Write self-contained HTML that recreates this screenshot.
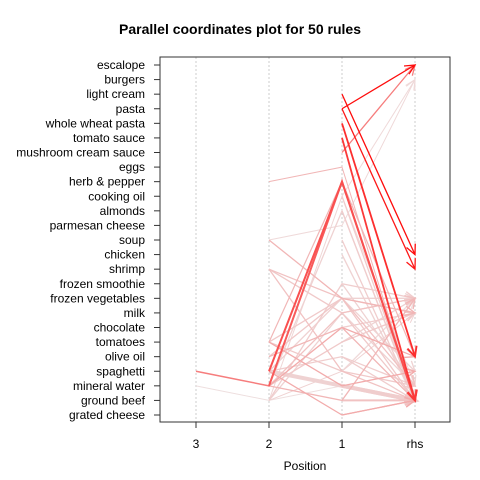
<!DOCTYPE html>
<html><head><meta charset="utf-8"><style>
body{margin:0;background:#fff}
svg{display:block;font-family:"Liberation Sans",Arial,sans-serif}
</style></head><body>
<svg id="chart" width="480" height="480" viewBox="0 0 480 480">
<rect width="480" height="480" fill="#fff"/>
<text x="240" y="34" text-anchor="middle" font-size="14" font-weight="bold">Parallel coordinates plot for 50 rules</text>
<g id="grid"></g>
<g id="lines"></g>
<rect x="160" y="57" width="290" height="365" fill="none" stroke="#333" stroke-width="1"/>
<g id="axes"></g>
<text x="305" y="470" text-anchor="middle" font-size="12">Position</text>
</svg>
<script>
const items = ["escalope","burgers","light cream","pasta","whole wheat pasta","tomato sauce","mushroom cream sauce","eggs","herb & pepper","cooking oil","almonds","parmesan cheese","soup","chicken","shrimp","frozen smoothie","frozen vegetables","milk","chocolate","tomatoes","olive oil","spaghetti","mineral water","ground beef","grated cheese"];
const positions = ["3","2","1","rhs"];
// rules: [pos3, pos2, pos1, rhs]
const ruleItems = [
 [null,null,"pasta","escalope"],
 [null,null,"light cream","chicken"],
 [null,null,"pasta","shrimp"],
 [null,null,"whole wheat pasta","olive oil"],
 [null,null,"tomato sauce","ground beef"],
 [null,null,"mushroom cream sauce","escalope"],
 [null,"soup","parmesan cheese","burgers"],
 [null,"herb & pepper","eggs","ground beef"],
 [null,"spaghetti","herb & pepper","ground beef"],
 [null,"mineral water","herb & pepper","ground beef"],
 [null,"tomatoes","herb & pepper","olive oil"],
 ["spaghetti","mineral water","herb & pepper","ground beef"],
 ["mineral water","ground beef","mineral water","ground beef"],
 [null,"spaghetti","mineral water","ground beef"],
 [null,null,"mineral water","ground beef"],
 [null,"soup","frozen vegetables","milk"],
 [null,"shrimp","milk","ground beef"],
 [null,"shrimp","frozen vegetables","mineral water"],
 [null,"tomatoes","frozen vegetables","ground beef"],
 [null,"olive oil","frozen vegetables","milk"],
 [null,"spaghetti","frozen vegetables","frozen vegetables"],
 [null,"mineral water","milk","frozen vegetables"],
 [null,"ground beef","frozen smoothie","frozen vegetables"],
 [null,"ground beef","cooking oil","mineral water"],
 [null,"mineral water","almonds","ground beef"],
 [null,"spaghetti","grated cheese","ground beef"],
 [null,"tomatoes","spaghetti","mineral water"],
 [null,"ground beef","spaghetti","milk"],
 [null,"mineral water","ground beef","frozen vegetables"],
 [null,"tomatoes","mineral water","spaghetti"],
 [null,"shrimp","spaghetti","ground beef"],
 [null,null,"grated cheese","ground beef"],
 [null,null,"ground beef","ground beef"],
 [null,null,"chocolate","milk"],
 [null,null,"olive oil","mineral water"],
 [null,null,"frozen smoothie","mineral water"],
 [null,null,"milk","frozen vegetables"],
 [null,null,"tomatoes","frozen vegetables"],
 [null,null,"soup","ground beef"],
 [null,null,"almonds","ground beef"],
 [null,null,"cooking oil","ground beef"],
 [null,null,"chicken","ground beef"],
 [null,null,"spaghetti","frozen vegetables"],
 [null,null,"frozen vegetables","spaghetti"],
 [null,null,"cooking oil","burgers"],
 [null,"mineral water","chocolate","olive oil"],
 [null,"olive oil","chocolate","ground beef"],
 [null,"spaghetti","olive oil","ground beef"],
 [null,"ground beef","milk","mineral water"],
 [null,"mineral water","tomatoes","milk"]
];
const ruleShade = [0.95,0.95,0.9,0.8,0.75,0.45,0.05,0.2,0.65,0.6,0.2,0.45,0.02,0.08,0.1,0.2,0.12,0.15,0.12,0.12,0.08,0.15,0.1,0.06,0.08,0.25,0.12,0.08,0.2,0.25,0.15,0.25,0.15,0.1,0.1,0.08,0.1,0.08,0.1,0.1,0.1,0.08,0.05,0.08,0.05,0.25,0.2,0.1,0.08,0.12];
const ruleWidth = [1.3,1.3,1.3,1.8,1.8,1.3,1,1,2,2,1.2,1.5,1,4,4,1.3,1.3,1.3,1.3,1.3,1.3,1.3,1.3,1,1.3,1.3,1.3,1,1.3,1.3,1.3,1.3,2,1.3,1.3,1.3,1.3,1.3,1.3,1.3,1.3,1.3,1.3,1.3,1,1.3,1.3,1.3,1.3,1.3];

const NS="http://www.w3.org/2000/svg";
const xOf = i => 196 + i*73;
const yOf = name => 65 + items.indexOf(name)*(350/24);
const grid=document.getElementById('grid'), lines=document.getElementById('lines'), axes=document.getElementById('axes');
function mk(tag,attrs,parent){const e=document.createElementNS(NS,tag);for(const k in attrs)e.setAttribute(k,attrs[k]);parent.appendChild(e);return e;}

positions.forEach((p,i)=>{
 const g=mk('line',{x1:xOf(i),x2:xOf(i),y1:57,y2:422,stroke:'#ccc','stroke-dasharray':'2,2','stroke-width':1},grid);
 
 
 const t=mk('line',{x1:xOf(i),x2:xOf(i),y1:422,y2:428,stroke:'#333'},axes);
 
 
 const l=mk('text',{x:xOf(i),y:448,'text-anchor':'middle','font-size':12},axes);
 l.textContent=p;
 
 
});
items.forEach(n=>{
 const y=yOf(n);
 const t=mk('line',{x1:154,x2:160,y1:y,y2:y,stroke:'#333'},axes);
 
 
 const l=mk('text',{x:145,y:y+4,'text-anchor':'end','font-size':12},axes);
 l.textContent=n;
 
 
});

const order=ruleItems.map((r,i)=>i).sort((a,b)=>ruleShade[a]-ruleShade[b]);
order.forEach(k=>{
 const r=ruleItems[k];
 const pts=[];
 r.forEach((n,i)=>{if(n)pts.push([xOf(i),yOf(n)]);});
 const s=ruleShade[k];
 const col=`rgb(${Math.round(238+17*s)},${Math.round(228-228*s)},${Math.round(228-228*s)})`;
 const g=mk('g',{stroke:col,fill:'none','stroke-width':ruleWidth[k]},lines);
 
 
 mk('polyline',{points:pts.map(p=>p.join(',')).join(' ')},g);
 const [x1,y1]=pts[pts.length-2],[x2,y2]=pts[pts.length-1];
 const a=Math.atan2(y2-y1,x2-x1),L=11,sp=0.45;
 mk('polyline',{points:`${x2-L*Math.cos(a-sp)},${y2-L*Math.sin(a-sp)} ${x2},${y2} ${x2-L*Math.cos(a+sp)},${y2-L*Math.sin(a+sp)}`},g);
});
</script>
</body></html>
